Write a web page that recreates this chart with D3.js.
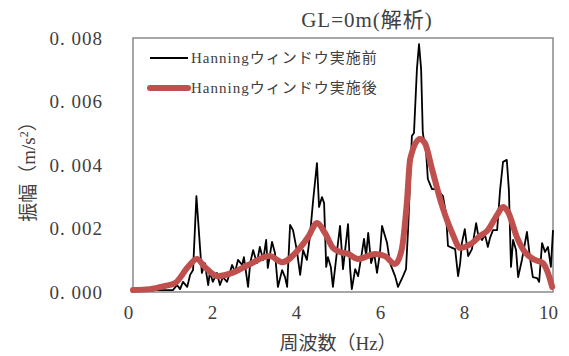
<!DOCTYPE html>
<html>
<head>
<meta charset="utf-8">
<script src="https://cdn.jsdelivr.net/npm/d3@7"></script>
<style>
  body { margin: 0; background: #fff; }
  text { font-family: "Liberation Serif", "Noto Sans CJK JP", serif; fill: #404040; }
</style>
</head>
<body>
<div id="chart"></div>
<script>
// spectrum before the Hanning window (Hz, m/s2)
var rawFreq = [0.00, 0.29, 0.52, 0.76, 0.95, 1.05, 1.12, 1.19, 1.29, 1.36, 1.43, 1.51, 1.60, 1.64, 1.71, 1.79, 1.83, 1.90, 2.00, 2.07,
  2.14, 2.24, 2.36, 2.43, 2.50, 2.60, 2.64, 2.74, 2.79, 2.86, 2.95, 3.02, 3.10, 3.17, 3.21, 3.31, 3.38, 3.45, 3.55, 3.62,
  3.67, 3.74, 3.81, 3.90, 3.98, 4.05, 4.14, 4.21, 4.29, 4.38, 4.43, 4.50, 4.55, 4.60, 4.64, 4.71, 4.76, 4.86, 4.93, 5.00,
  5.12, 5.17, 5.21, 5.29, 5.36, 5.45, 5.50, 5.55, 5.60, 5.67, 5.74, 5.81, 5.88, 5.93, 6.05, 6.12, 6.24, 6.31, 6.40, 6.50,
  6.55, 6.64, 6.69, 6.76, 6.81, 6.86, 6.90, 6.98, 7.02, 7.12, 7.24, 7.31, 7.38, 7.45, 7.50, 7.60, 7.67, 7.74, 7.79, 7.83,
  7.90, 7.98, 8.07, 8.17, 8.21, 8.31, 8.38, 8.45, 8.50, 8.57, 8.67, 8.74, 8.81, 8.90, 8.95, 9.00, 9.05, 9.12, 9.17, 9.26,
  9.38, 9.45, 9.52, 9.62, 9.67, 9.74, 9.81, 9.88, 9.95, 10.00];
var rawAmp = [0.00003, 0.00003, 0.00006, 0.00006, 0.00006, 0.00022, 0.00009, 0.00032, 0.00016, 0.00054, 0.00069, 0.00302, 0.00132, 0.00060, 0.00091, 0.00022, 0.00063, 0.00032, 0.00060, 0.00022,
  0.00047, 0.00032, 0.00085, 0.00063, 0.00101, 0.00085, 0.00110, 0.00016, 0.00091, 0.00132, 0.00091, 0.00142, 0.00101, 0.00164, 0.00076, 0.00158, 0.00123, 0.00016, 0.00069, 0.00047,
  0.00016, 0.00211, 0.00195, 0.00132, 0.00054, 0.00132, 0.00101, 0.00173, 0.00290, 0.00406, 0.00268, 0.00299, 0.00280, 0.00079, 0.00110, 0.00079, 0.00016, 0.00132, 0.00208, 0.00072,
  0.00214, 0.00072, 0.00009, 0.00072, 0.00050, 0.00123, 0.00167, 0.00113, 0.00186, 0.00091, 0.00123, 0.00060, 0.00123, 0.00208, 0.00154, 0.00091, 0.00050, 0.00016, 0.00041, 0.00072,
  0.00198, 0.00491, 0.00501, 0.00702, 0.00781, 0.00702, 0.00501, 0.00438, 0.00356, 0.00324, 0.00324, 0.00312, 0.00302, 0.00249, 0.00145, 0.00139, 0.00135, 0.00050, 0.00091, 0.00154,
  0.00198, 0.00113, 0.00135, 0.00217, 0.00186, 0.00164, 0.00180, 0.00142, 0.00170, 0.00195, 0.00195, 0.00321, 0.00410, 0.00416, 0.00321, 0.00079, 0.00164, 0.00132, 0.00047, 0.00101,
  0.00189, 0.00110, 0.00047, 0.00044, 0.00032, 0.00154, 0.00126, 0.00142, 0.00079, 0.00195];

// spectrum after the Hanning window
var hanFreq = [0.00, 0.40, 0.76, 1.00, 1.31, 1.52, 1.71, 2.02, 2.36, 2.74, 3.26, 3.55, 3.93, 4.17, 4.38, 4.57, 4.76, 4.93, 5.12, 5.36,
  5.76, 6.00, 6.24, 6.40, 6.52, 6.60, 6.83, 6.95, 7.12, 7.36, 7.60, 7.79, 8.07, 8.26, 8.45, 8.67, 8.81, 8.93, 9.14, 9.33,
  9.57, 9.76, 9.88, 9.98];
var hanAmp = [0.00006, 0.00009, 0.00019, 0.00028, 0.00079, 0.00104, 0.00079, 0.00050, 0.00060, 0.00085, 0.00113, 0.00094, 0.00132, 0.00173, 0.00217, 0.00186, 0.00139, 0.00126, 0.00120, 0.00104,
  0.00120, 0.00113, 0.00088, 0.00135, 0.00280, 0.00419, 0.00482, 0.00469, 0.00387, 0.00271, 0.00186, 0.00139, 0.00154, 0.00176, 0.00195, 0.00243, 0.00268, 0.00252, 0.00173, 0.00126,
  0.00101, 0.00091, 0.00060, 0.00016];

var xTicks = [0, 2, 4, 6, 8, 10];
var yTicks = [0, 0.002, 0.004, 0.006, 0.008];
var seriesNames = ["Hanningウィンドウ実施前", "Hanningウィンドウ実施後"];
var title = "GL=0m(解析)";

var margin = {top: 38, right: 16, bottom: 64, left: 133},
    width = 569 - margin.left - margin.right,
    height = 356 - margin.top - margin.bottom;

var x = d3.scaleLinear().domain([0, 10]).range([0, width]);
var y = d3.scaleLinear().domain([0, 0.008]).range([height, 0]);

var svg = d3.select("#chart").append("svg")
    .attr("width", 569)
    .attr("height", 356);

var g = svg.append("g")
    .attr("transform", "translate(" + margin.left + "," + margin.top + ")");

// plot area border
g.append("rect")
  .attr("width", width)
  .attr("height", height)
  .attr("fill", "none")
  .attr("stroke", "#898989")
  .attr("stroke-width", 1.5);

// axes (labels only, Excel style)
var xAxis = g.append("g")
  .attr("transform", "translate(0," + height + ")")
  .call(d3.axisBottom(x).tickValues(xTicks).tickSize(0).tickPadding(14).tickFormat(d3.format("d")));
xAxis.select(".domain").remove();
xAxis.selectAll("text")
  .attr("dx", -5)
  .attr("font-size", "19px")
  .attr("fill", "#404040")
  .style("font-family", "Liberation Serif");

var yAxis = g.append("g")
  .call(d3.axisLeft(y).tickValues(yTicks).tickSize(0).tickPadding(30).tickFormat(d => d.toFixed(3).replace(".", ". ")));
yAxis.select(".domain").remove();
yAxis.selectAll("text")
  .attr("font-size", "19px")
  .attr("fill", "#404040")
  .attr("letter-spacing", "1px")
  .style("font-family", "Liberation Serif")
  .style("white-space", "pre");

// lines
var rawLine = d3.line()
  .x((d, i) => x(rawFreq[i]))
  .y(d => y(d));

var hanLine = d3.line()
  .x((d, i) => x(hanFreq[i]))
  .y(d => y(d))
  .curve(d3.curveMonotoneX);

g.append("path")
  .datum(rawAmp)
  .attr("fill", "none")
  .attr("stroke", "#000")
  .attr("stroke-width", 1.8)
  .attr("stroke-linejoin", "round")
  .attr("d", rawLine);

g.append("path")
  .datum(hanAmp)
  .attr("fill", "none")
  .attr("stroke", "#c0504d")
  .attr("stroke-width", 6)
  .attr("stroke-linejoin", "round")
  .attr("stroke-linecap", "round")
  .attr("d", hanLine);

// legend
var legend = svg.append("g");
var legendY = [58, 88];
legend.selectAll("line")
  .data(seriesNames)
  .enter().append("line")
  .attr("x1", 150).attr("x2", 188)
  .attr("y1", (d, i) => legendY[i]).attr("y2", (d, i) => legendY[i])
  .attr("stroke", (d, i) => i == 0 ? "#000" : "#c0504d")
  .attr("stroke-width", (d, i) => i == 0 ? 1.8 : 6)
  .attr("stroke-linecap", (d, i) => i == 0 ? "butt" : "round");
legend.selectAll("text")
  .data(seriesNames)
  .enter().append("text")
  .attr("x", 191)
  .attr("y", (d, i) => legendY[i])
  .attr("dy", "0.35em")
  .attr("font-size", "15px")
  .attr("letter-spacing", "1px")
  .text(d => d);

// title
svg.append("text")
  .attr("x", 367)
  .attr("y", 20)
  .attr("dy", "0.35em")
  .attr("text-anchor", "middle")
  .attr("font-size", "21px")
  .attr("letter-spacing", "1px")
  .text(title);

// axis titles
svg.append("text")
  .attr("x", 338)
  .attr("y", 343)
  .attr("dy", "0.35em")
  .attr("text-anchor", "middle")
  .attr("font-size", "19px")
  .text("周波数（Hz）");

var yTitle = svg.append("text")
  .attr("transform", "translate(28,167) rotate(-90)")
  .attr("dy", "0.35em")
  .attr("text-anchor", "middle")
  .attr("font-size", "19px");
yTitle.append("tspan").text("振幅（m/s");
yTitle.append("tspan").attr("baseline-shift", "super").attr("font-size", "12px").text("2");
yTitle.append("tspan").text("）");
</script>
</body>
</html>
